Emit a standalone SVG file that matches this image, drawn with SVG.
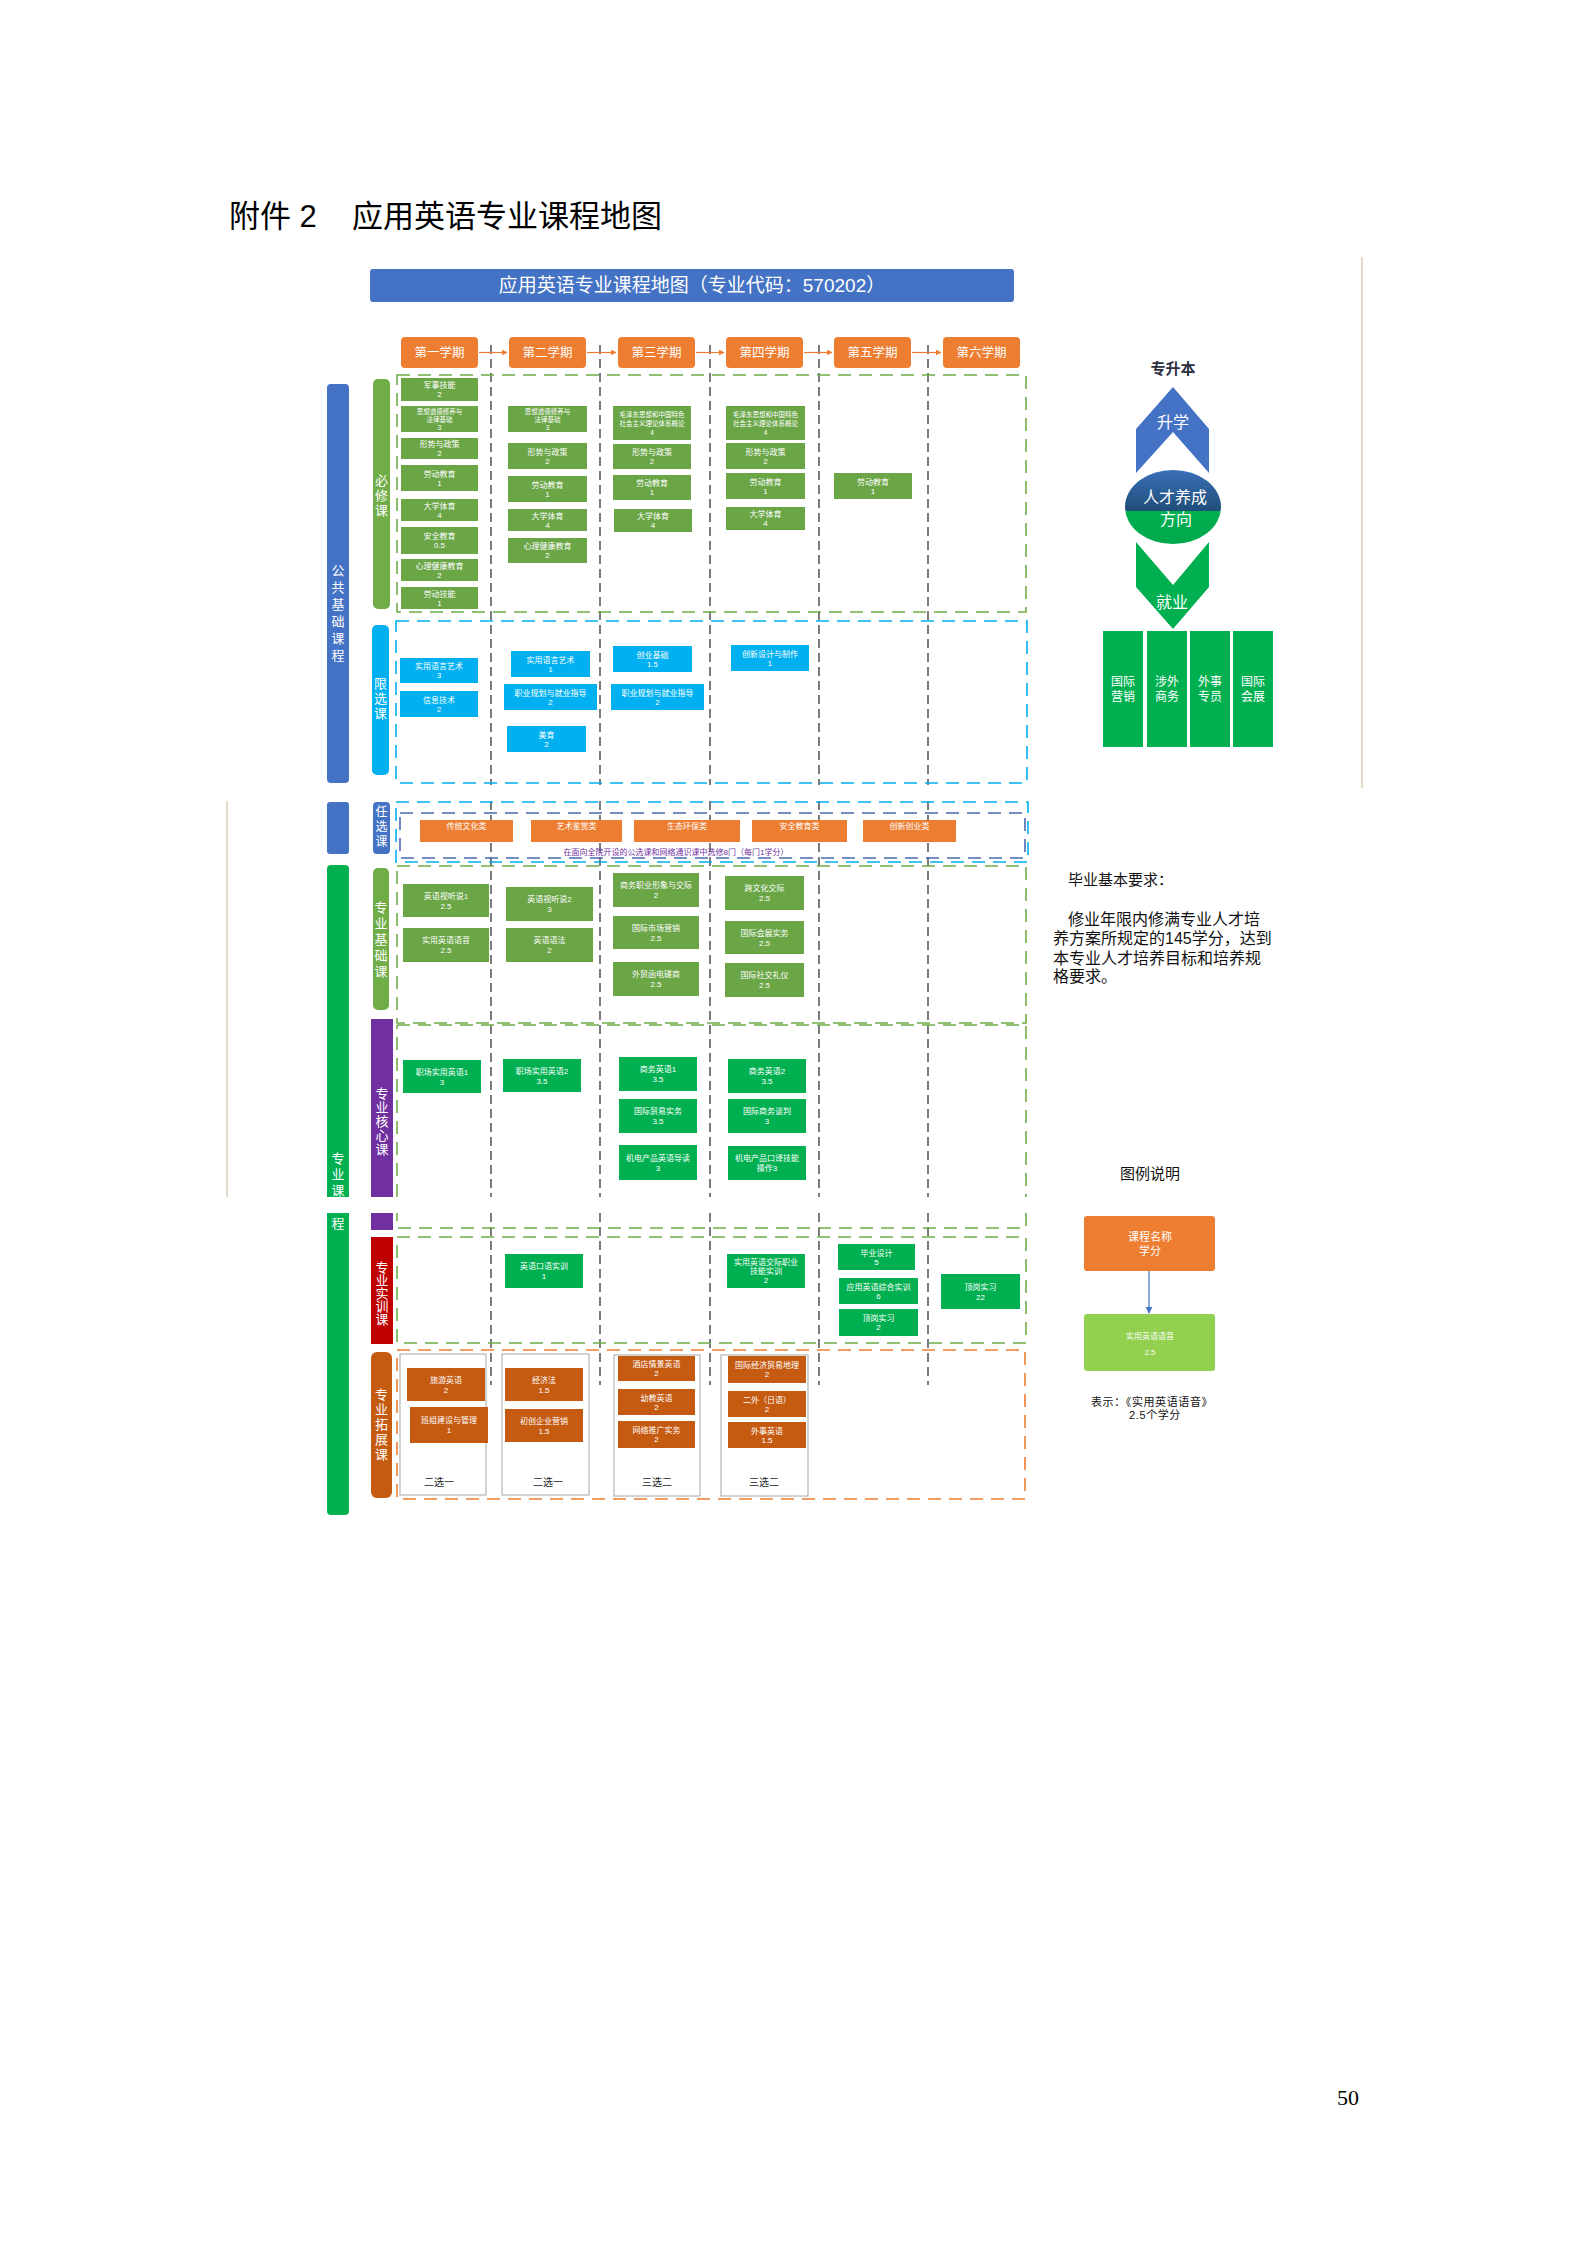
<svg xmlns="http://www.w3.org/2000/svg" width="1587" height="2245" viewBox="0 0 1587 2245">
<defs>
<style>
text{font-family:"Liberation Sans","Noto Sans CJK SC",sans-serif}
text.serif{font-family:"Liberation Serif",serif}
.g{fill:#6AA546}
.bl{fill:#00B0F0}
.cg{fill:#00B050}
.br{fill:#C55A11}
.or{fill:#ED7D31}
.bt{fill:#fff;font-size:8px;text-anchor:middle}
.bs{fill:#fff;font-size:6.5px;text-anchor:middle}
.hd{fill:#fff;font-size:12.5px;text-anchor:middle}
.vt{fill:#fff;font-size:13px;text-anchor:middle}
.sep{fill:none;stroke:#444;stroke-width:1.4;stroke-dasharray:9 5}
.dg{fill:none;stroke:#70AD47;stroke-width:1.6;stroke-dasharray:13 8}
.db{fill:none;stroke:#00B0F0;stroke-width:1.6;stroke-dasharray:13 8}
.dn{fill:none;stroke:#4A6AAE;stroke-width:1.6;stroke-dasharray:13 8}
.do{fill:none;stroke:#ED7D31;stroke-width:1.6;stroke-dasharray:13 8}
.arr{stroke:#ED7D31;stroke-width:1.2;fill:none;marker-end:url(#ao)}
.fr{fill:#fff;stroke:#A6A6A6;stroke-width:1}
.lab{fill:#222;font-size:10px;text-anchor:middle}
</style>
<marker id="ao" viewBox="0 0 10 10" refX="9" refY="5" markerWidth="5" markerHeight="5" orient="auto"><path d="M0,0 L10,5 L0,10 z" fill="#ED7D31"/></marker>
<marker id="ab" viewBox="0 0 10 10" refX="9" refY="5" markerWidth="6" markerHeight="6" orient="auto"><path d="M0,0 L10,5 L0,10 z" fill="#4472C4"/></marker>
<linearGradient id="ell" x1="0" y1="0" x2="0" y2="1">
<stop offset="0" stop-color="#3A6FB8"/><stop offset="0.55" stop-color="#1F4E79"/><stop offset="0.55" stop-color="#00B050"/><stop offset="1" stop-color="#00A84C"/>
</linearGradient>
</defs>
<rect width="1587" height="2245" fill="#fff"/>

<g id="page-title">
<text x="229" y="227" font-size="31" fill="#000">附件 2</text>
<text x="352" y="227" font-size="31" fill="#000">应用英语专业课程地图</text>
</g>

<g id="title-bar">
<rect x="370" y="269" width="644" height="33" rx="3" fill="#4472C4"/>
<text x="692" y="292" font-size="19" fill="#fff" text-anchor="middle">应用英语专业课程地图（专业代码：570202）</text>
</g>

<g id="frames">
<path class="sep" d="M491,345V785M600,345V785M710,345V785M819,345V785M928,345V785"/>
<path class="sep" d="M491,801V1197M600,801V1197M710,801V1197M819,801V1197M928,801V1197"/>
<path class="sep" d="M491,1213V1385M600,1213V1385M710,1213V1385M819,1213V1385M928,1213V1385"/>
<rect class="dg" x="397" y="375" width="629" height="237"/>
<rect class="db" x="396" y="621" width="631" height="162"/>
<rect class="db" x="396" y="802" width="632" height="60"/>
<rect class="dn" x="400" y="813" width="625" height="45"/>
<rect class="dg" x="397" y="866" width="629" height="157"/>
<path class="dg" d="M397,1025H1026V1197M1026,1213V1228H397V1213M397,1197V1025"/>
<rect class="dg" x="397" y="1237" width="629" height="106"/>
<rect class="do" x="397" y="1350" width="628" height="149"/>
<line x1="1362" y1="257" x2="1362" y2="788" stroke="#D8CCB4" stroke-width="1.5"/>
<line x1="227" y1="801" x2="227" y2="1197" stroke="#D8CCB4" stroke-width="1.5"/>
</g>

<g id="semesters">
<g id="s1"><rect class="or" x="401" y="337" width="77" height="31" rx="4"/><text class="hd" x="439.5" y="357">第一学期</text></g>
<g id="s2"><rect class="or" x="509" y="337" width="77" height="31" rx="4"/><text class="hd" x="547.5" y="357">第二学期</text></g>
<g id="s3"><rect class="or" x="618" y="337" width="77" height="31" rx="4"/><text class="hd" x="656.5" y="357">第三学期</text></g>
<g id="s4"><rect class="or" x="726" y="337" width="77" height="31" rx="4"/><text class="hd" x="764.5" y="357">第四学期</text></g>
<g id="s5"><rect class="or" x="834" y="337" width="77" height="31" rx="4"/><text class="hd" x="872.5" y="357">第五学期</text></g>
<g id="s6"><rect class="or" x="943" y="337" width="77" height="31" rx="4"/><text class="hd" x="981.5" y="357">第六学期</text></g>
</g>

<g id="connectors">
<line class="arr" x1="479" y1="352.5" x2="507" y2="352.5"/>
<line class="arr" x1="587" y1="352.5" x2="616" y2="352.5"/>
<line class="arr" x1="696" y1="352.5" x2="724" y2="352.5"/>
<line class="arr" x1="804" y1="352.5" x2="832" y2="352.5"/>
<line class="arr" x1="912" y1="352.5" x2="941" y2="352.5"/>
<line x1="1149" y1="1271" x2="1149" y2="1313" stroke="#4472C4" stroke-width="1.2" marker-end="url(#ab)"/>
</g>

<g id="left-bars">
<g id="bar-gg"><rect x="327" y="384" width="22" height="399" rx="4" fill="#4472C4"/>
<text class="vt" x="338" y="575">公<tspan x="338" dy="17">共</tspan><tspan x="338" dy="17">基</tspan><tspan x="338" dy="17">础</tspan><tspan x="338" dy="17">课</tspan><tspan x="338" dy="17">程</tspan></text></g>
<rect x="327" y="802" width="22" height="52" rx="3" fill="#4472C4"/>
<g id="bar-bx"><rect x="373" y="379" width="17" height="230" rx="5" fill="#70AD47"/>
<text class="vt" x="381.5" y="485">必<tspan x="381.5" dy="15">修</tspan><tspan x="381.5" dy="15">课</tspan></text></g>
<g id="bar-xx"><rect x="372" y="625" width="17" height="150" rx="5" fill="#00B0F0"/>
<text class="vt" x="380.5" y="688">限<tspan x="380.5" dy="15">选</tspan><tspan x="380.5" dy="15">课</tspan></text></g>
<g id="bar-rx"><rect x="373" y="802" width="17" height="52" rx="4" fill="#4472C4"/>
<text x="381.5" y="816" fill="#fff" font-size="12" text-anchor="middle">任<tspan x="381.5" dy="15">选</tspan><tspan x="381.5" dy="15">课</tspan></text></g>
<g id="bar-zy"><path d="M327,1197V869a4,4 0 0 1 4,-4h14a4,4 0 0 1 4,4V1197z" fill="#00B050"/>
<path d="M327,1213V1511a4,4 0 0 0 4,4h14a4,4 0 0 0 4,-4V1213z" fill="#00B050"/>
<text class="vt" x="338" y="1163">专<tspan x="338" dy="16">业</tspan><tspan x="338" dy="16">课</tspan><tspan x="338" dy="33">程</tspan></text></g>
<g id="bar-jc"><rect x="373" y="868" width="16" height="142" rx="5" fill="#70AD47"/>
<text class="vt" x="381" y="912">专<tspan x="381" dy="16">业</tspan><tspan x="381" dy="16">基</tspan><tspan x="381" dy="16">础</tspan><tspan x="381" dy="16">课</tspan></text></g>
<g id="bar-hx"><rect x="371" y="1019" width="22" height="178" fill="#7030A0"/>
<rect x="371" y="1213" width="22" height="17" fill="#7030A0"/>
<text class="vt" x="382" y="1098">专<tspan x="382" dy="14">业</tspan><tspan x="382" dy="14">核</tspan><tspan x="382" dy="14">心</tspan><tspan x="382" dy="14">课</tspan></text></g>
<g id="bar-sx"><rect x="371" y="1237" width="22" height="107" fill="#C00000"/>
<text class="vt" x="382" y="1272">专<tspan x="382" dy="13">业</tspan><tspan x="382" dy="13">实</tspan><tspan x="382" dy="13">训</tspan><tspan x="382" dy="13">课</tspan></text></g>
<g id="bar-tz"><rect x="371" y="1352" width="21" height="146" rx="6" fill="#C55A11"/>
<text class="vt" x="381.5" y="1399">专<tspan x="381.5" dy="15">业</tspan><tspan x="381.5" dy="15">拓</tspan><tspan x="381.5" dy="15">展</tspan><tspan x="381.5" dy="15">课</tspan></text></g>
</g>

<g id="bixiu">
<g id="b1-1"><rect class="g" x="401" y="378" width="77" height="23"/><text class="bt" x="439.5" y="388">军事技能<tspan x="439.5" dy="9">2</tspan></text></g>
<g id="b1-2"><rect class="g" x="401" y="406" width="77" height="26"/><text class="bs" x="439.5" y="413.5">思想道德修养与<tspan x="439.5" dy="8">法律基础</tspan><tspan x="439.5" dy="8">3</tspan></text></g>
<g id="b1-3"><rect class="g" x="401" y="438" width="77" height="21"/><text class="bt" x="439.5" y="447">形势与政策<tspan x="439.5" dy="9">2</tspan></text></g>
<g id="b1-4"><rect class="g" x="401" y="465" width="77" height="26"/><text class="bt" x="439.5" y="476.5">劳动教育<tspan x="439.5" dy="9">1</tspan></text></g>
<g id="b1-5"><rect class="g" x="401" y="499" width="77" height="22"/><text class="bt" x="439.5" y="508.5">大学体育<tspan x="439.5" dy="9">4</tspan></text></g>
<g id="b1-6"><rect class="g" x="401" y="527" width="77" height="27"/><text class="bt" x="439.5" y="539">安全教育<tspan x="439.5" dy="9">0.5</tspan></text></g>
<g id="b1-7"><rect class="g" x="401" y="559" width="77" height="22"/><text class="bt" x="439.5" y="568.5">心理健康教育<tspan x="439.5" dy="9">2</tspan></text></g>
<g id="b1-8"><rect class="g" x="401" y="587" width="77" height="22"/><text class="bt" x="439.5" y="596.5">劳动技能<tspan x="439.5" dy="9">1</tspan></text></g>

<g id="b2-1"><rect class="g" x="508" y="406" width="79" height="26"/><text class="bs" x="547.5" y="413.5">思想道德修养与<tspan x="547.5" dy="8">法律基础</tspan><tspan x="547.5" dy="8">3</tspan></text></g>
<g id="b2-2"><rect class="g" x="508" y="443" width="79" height="26"/><text class="bt" x="547.5" y="454.5">形势与政策<tspan x="547.5" dy="9">2</tspan></text></g>
<g id="b2-3"><rect class="g" x="508" y="476" width="79" height="26"/><text class="bt" x="547.5" y="487.5">劳动教育<tspan x="547.5" dy="9">1</tspan></text></g>
<g id="b2-4"><rect class="g" x="508" y="509" width="79" height="22"/><text class="bt" x="547.5" y="518.5">大学体育<tspan x="547.5" dy="9">4</tspan></text></g>
<g id="b2-5"><rect class="g" x="508" y="538" width="79" height="25"/><text class="bt" x="547.5" y="549">心理健康教育<tspan x="547.5" dy="9">2</tspan></text></g>

<g id="b3-1"><rect class="g" x="613" y="406" width="78" height="34"/><text class="bs" x="652" y="416.5">毛泽东思想和中国特色<tspan x="652" dy="9">社会主义理论体系概论</tspan><tspan x="652" dy="9">4</tspan></text></g>
<g id="b3-2"><rect class="g" x="613" y="444" width="78" height="25"/><text class="bt" x="652" y="455">形势与政策<tspan x="652" dy="9">2</tspan></text></g>
<g id="b3-3"><rect class="g" x="613" y="475" width="78" height="25"/><text class="bt" x="652" y="486">劳动教育<tspan x="652" dy="9">1</tspan></text></g>
<g id="b3-4"><rect class="g" x="614" y="509" width="78" height="23"/><text class="bt" x="653" y="519">大学体育<tspan x="653" dy="9">4</tspan></text></g>

<g id="b4-1"><rect class="g" x="726" y="406" width="79" height="34"/><text class="bs" x="765.5" y="416.5">毛泽东思想和中国特色<tspan x="765.5" dy="9">社会主义理论体系概论</tspan><tspan x="765.5" dy="9">4</tspan></text></g>
<g id="b4-2"><rect class="g" x="726" y="443" width="79" height="26"/><text class="bt" x="765.5" y="454.5">形势与政策<tspan x="765.5" dy="9">2</tspan></text></g>
<g id="b4-3"><rect class="g" x="726" y="473" width="79" height="26"/><text class="bt" x="765.5" y="484.5">劳动教育<tspan x="765.5" dy="9">1</tspan></text></g>
<g id="b4-4"><rect class="g" x="726" y="507" width="79" height="23"/><text class="bt" x="765.5" y="517">大学体育<tspan x="765.5" dy="9">4</tspan></text></g>

<g id="b5-1"><rect class="g" x="834" y="473" width="78" height="26"/><text class="bt" x="873" y="484.5">劳动教育<tspan x="873" dy="9">1</tspan></text></g>
</g>

<g id="xianxuan">
<g id="x1-1"><rect class="bl" x="400" y="658" width="78" height="25"/><text class="bt" x="439" y="669">实用语言艺术<tspan x="439" dy="9">3</tspan></text></g>
<g id="x1-2"><rect class="bl" x="400" y="691" width="78" height="26"/><text class="bt" x="439" y="702.5">信息技术<tspan x="439" dy="9">2</tspan></text></g>
<g id="x2-1"><rect class="bl" x="511" y="651" width="79" height="26"/><text class="bt" x="550.5" y="662.5">实用语言艺术<tspan x="550.5" dy="9">1</tspan></text></g>
<g id="x2-2"><rect class="bl" x="504" y="684" width="93" height="26"/><text class="bt" x="550.5" y="695.5">职业规划与就业指导<tspan x="550.5" dy="9">2</tspan></text></g>
<g id="x2-3"><rect class="bl" x="507" y="726" width="79" height="26"/><text class="bt" x="546.5" y="737.5">美育<tspan x="546.5" dy="9">2</tspan></text></g>
<g id="x3-1"><rect class="bl" x="613" y="646" width="79" height="26"/><text class="bt" x="652.5" y="657.5">创业基础<tspan x="652.5" dy="9">1.5</tspan></text></g>
<g id="x3-2"><rect class="bl" x="611" y="684" width="93" height="26"/><text class="bt" x="657.5" y="695.5">职业规划与就业指导<tspan x="657.5" dy="9">2</tspan></text></g>
<g id="x4-1"><rect class="bl" x="731" y="645" width="78" height="26"/><text class="bt" x="770" y="656.5">创新设计与制作<tspan x="770" dy="9">1</tspan></text></g>
</g>

<g id="renxuan">
<g id="r1"><rect class="or" x="420" y="820" width="93" height="22"/><text class="bt" x="466.5" y="829">传统文化类</text></g>
<g id="r2"><rect class="or" x="531" y="820" width="91" height="22"/><text class="bt" x="576.5" y="829">艺术鉴赏类</text></g>
<g id="r3"><rect class="or" x="634" y="820" width="106" height="22"/><text class="bt" x="687" y="829">生态环保类</text></g>
<g id="r4"><rect class="or" x="752" y="820" width="95" height="22"/><text class="bt" x="799.5" y="829">安全教育类</text></g>
<g id="r5"><rect class="or" x="863" y="820" width="93" height="22"/><text class="bt" x="909.5" y="829">创新创业类</text></g>
<text x="676" y="855" font-size="8" fill="#7030A0" text-anchor="middle">在面向全院开设的公选课和网络通识课中选修8门（每门1学分）</text>
</g>

<g id="jichu">
<g id="j1-1"><rect class="g" x="403" y="884" width="86" height="33"/><text class="bt" x="446" y="898.5">英语视听说1<tspan x="446" dy="10">2.5</tspan></text></g>
<g id="j1-2"><rect class="g" x="403" y="928" width="86" height="34"/><text class="bt" x="446" y="943">实用英语语音<tspan x="446" dy="10">2.5</tspan></text></g>
<g id="j2-1"><rect class="g" x="506" y="887" width="87" height="34"/><text class="bt" x="549.5" y="902">英语视听说2<tspan x="549.5" dy="10">3</tspan></text></g>
<g id="j2-2"><rect class="g" x="506" y="928" width="87" height="34"/><text class="bt" x="549.5" y="943">英语语法<tspan x="549.5" dy="10">2</tspan></text></g>
<g id="j3-1"><rect class="g" x="613" y="873" width="86" height="34"/><text class="bt" x="656" y="888">商务职业形象与交际<tspan x="656" dy="10">2</tspan></text></g>
<g id="j3-2"><rect class="g" x="613" y="916" width="86" height="33"/><text class="bt" x="656" y="930.5">国际市场营销<tspan x="656" dy="10">2.5</tspan></text></g>
<g id="j3-3"><rect class="g" x="613" y="962" width="86" height="34"/><text class="bt" x="656" y="977">外贸函电磋商<tspan x="656" dy="10">2.5</tspan></text></g>
<g id="j4-1"><rect class="g" x="725" y="876" width="79" height="34"/><text class="bt" x="764.5" y="891">跨文化交际<tspan x="764.5" dy="10">2.5</tspan></text></g>
<g id="j4-2"><rect class="g" x="725" y="921" width="79" height="33"/><text class="bt" x="764.5" y="935.5">国际会展实务<tspan x="764.5" dy="10">2.5</tspan></text></g>
<g id="j4-3"><rect class="g" x="725" y="963" width="79" height="34"/><text class="bt" x="764.5" y="978">国际社交礼仪<tspan x="764.5" dy="10">2.5</tspan></text></g>
</g>

<g id="hexin">
<g id="h1-1"><rect class="cg" x="403" y="1060" width="78" height="33"/><text class="bt" x="442" y="1074.5">职场实用英语1<tspan x="442" dy="10">3</tspan></text></g>
<g id="h2-1"><rect class="cg" x="503" y="1059" width="78" height="33"/><text class="bt" x="542" y="1073.5">职场实用英语2<tspan x="542" dy="10">3.5</tspan></text></g>
<g id="h3-1"><rect class="cg" x="619" y="1057" width="78" height="34"/><text class="bt" x="658" y="1072">商务英语1<tspan x="658" dy="10">3.5</tspan></text></g>
<g id="h3-2"><rect class="cg" x="619" y="1099" width="78" height="34"/><text class="bt" x="658" y="1114">国际贸易实务<tspan x="658" dy="10">3.5</tspan></text></g>
<g id="h3-3"><rect class="cg" x="619" y="1145" width="78" height="35"/><text class="bt" x="658" y="1160.5">机电产品英语导读<tspan x="658" dy="10">3</tspan></text></g>
<g id="h4-1"><rect class="cg" x="728" y="1059" width="78" height="34"/><text class="bt" x="767" y="1074">商务英语2<tspan x="767" dy="10">3.5</tspan></text></g>
<g id="h4-2"><rect class="cg" x="728" y="1099" width="78" height="34"/><text class="bt" x="767" y="1114">国际商务谈判<tspan x="767" dy="10">3</tspan></text></g>
<g id="h4-3"><rect class="cg" x="728" y="1146" width="78" height="34"/><text class="bt" x="767" y="1161">机电产品口译技能<tspan x="767" dy="10">操作3</tspan></text></g>
</g>

<g id="shixun">
<g id="sx2-1"><rect class="cg" x="505" y="1254" width="78" height="34"/><text class="bt" x="544" y="1269">英语口语实训<tspan x="544" dy="10">1</tspan></text></g>
<g id="sx4-1"><rect class="cg" x="727" y="1254" width="78" height="34"/><text class="bt" x="766" y="1264.5">实用英语交际职业<tspan x="766" dy="9">技能实训</tspan><tspan x="766" dy="9">2</tspan></text></g>
<g id="sx5-1"><rect class="cg" x="838" y="1244" width="77" height="26"/><text class="bt" x="876.5" y="1255.5">毕业设计<tspan x="876.5" dy="9">5</tspan></text></g>
<g id="sx5-2"><rect class="cg" x="839" y="1278" width="79" height="26"/><text class="bt" x="878.5" y="1289.5">应用英语综合实训<tspan x="878.5" dy="9">6</tspan></text></g>
<g id="sx5-3"><rect class="cg" x="839" y="1309" width="79" height="27"/><text class="bt" x="878.5" y="1321">顶岗实习<tspan x="878.5" dy="9">2</tspan></text></g>
<g id="sx6-1"><rect class="cg" x="941" y="1274" width="79" height="35"/><text class="bt" x="980.5" y="1289.5">顶岗实习<tspan x="980.5" dy="10">22</tspan></text></g>
</g>

<g id="tuozhan">
<rect class="fr" x="400" y="1354" width="86" height="141"/>
<rect class="fr" x="502" y="1354" width="87" height="141"/>
<rect class="fr" x="614" y="1355" width="86" height="141"/>
<rect class="fr" x="721" y="1355" width="87" height="141"/>
<text class="lab" x="439" y="1486">二选一</text>
<text class="lab" x="548" y="1486">二选一</text>
<text class="lab" x="657" y="1486">三选二</text>
<text class="lab" x="764" y="1486">三选二</text>
<g id="t1-1"><rect class="br" x="407" y="1368" width="78" height="33"/><text class="bt" x="446" y="1382.5">旅游英语<tspan x="446" dy="10">2</tspan></text></g>
<g id="t1-2"><rect class="br" x="410" y="1407" width="78" height="36"/><text class="bt" x="449" y="1423">班组建设与管理<tspan x="449" dy="10">1</tspan></text></g>
<g id="t2-1"><rect class="br" x="505" y="1368" width="78" height="33"/><text class="bt" x="544" y="1382.5">经济法<tspan x="544" dy="10">1.5</tspan></text></g>
<g id="t2-2"><rect class="br" x="505" y="1409" width="78" height="33"/><text class="bt" x="544" y="1423.5">初创企业营销<tspan x="544" dy="10">1.5</tspan></text></g>
<g id="t3-1"><rect class="br" x="618" y="1356" width="77" height="25"/><text class="bt" x="656.5" y="1367">酒店情景英语<tspan x="656.5" dy="9">2</tspan></text></g>
<g id="t3-2"><rect class="br" x="618" y="1389" width="77" height="26"/><text class="bt" x="656.5" y="1400.5">幼教英语<tspan x="656.5" dy="9">2</tspan></text></g>
<g id="t3-3"><rect class="br" x="618" y="1421" width="77" height="27"/><text class="bt" x="656.5" y="1433">网络推广实务<tspan x="656.5" dy="9">2</tspan></text></g>
<g id="t4-1"><rect class="br" x="728" y="1356" width="78" height="27"/><text class="bt" x="767" y="1368">国际经济贸易地理<tspan x="767" dy="9">2</tspan></text></g>
<g id="t4-2"><rect class="br" x="728" y="1391" width="78" height="26"/><text class="bt" x="767" y="1402.5">二外（日语）<tspan x="767" dy="9">2</tspan></text></g>
<g id="t4-3"><rect class="br" x="728" y="1422" width="78" height="26"/><text class="bt" x="767" y="1433.5">外事英语<tspan x="767" dy="9">1.5</tspan></text></g>
</g>

<g id="direction">
<text x="1173" y="374" font-size="15" font-weight="bold" fill="#2B2F3F" text-anchor="middle">专升本</text>
<g id="up"><polygon points="1173,387 1209,429 1209,473 1173,432 1136,473 1136,429" fill="#4472C4"/>
<text x="1173" y="428" font-size="16" fill="#fff" text-anchor="middle">升学</text></g>
<g id="center"><ellipse cx="1173" cy="507" rx="48" ry="37" fill="url(#ell)"/>
<text x="1175" y="503" font-size="16" fill="#fff" text-anchor="middle">人才养成</text>
<text x="1176" y="525" font-size="16" fill="#fff" text-anchor="middle">方向</text></g>
<g id="down"><polygon points="1136,542 1173,585 1209,542 1209,587 1173,629 1136,587" fill="#00B050"/>
<text x="1172" y="608" font-size="16" fill="#fff" text-anchor="middle">就业</text></g>
<g id="job1"><rect class="cg" x="1103" y="631" width="40" height="116"/><text x="1123" y="686" font-size="12" fill="#fff" text-anchor="middle">国际<tspan x="1123" dy="15">营销</tspan></text></g>
<g id="job2"><rect class="cg" x="1147" y="631" width="40" height="116"/><text x="1167" y="686" font-size="12" fill="#fff" text-anchor="middle">涉外<tspan x="1167" dy="15">商务</tspan></text></g>
<g id="job3"><rect class="cg" x="1190" y="631" width="40" height="116"/><text x="1210" y="686" font-size="12" fill="#fff" text-anchor="middle">外事<tspan x="1210" dy="15">专员</tspan></text></g>
<g id="job4"><rect class="cg" x="1233" y="631" width="40" height="116"/><text x="1253" y="686" font-size="12" fill="#fff" text-anchor="middle">国际<tspan x="1253" dy="15">会展</tspan></text></g>
</g>

<g id="requirements" fill="#111">
<text x="1068" y="885" font-size="15">毕业基本要求：</text>
<text x="1068" y="925" font-size="16">修业年限内修满专业人才培</text>
<text x="1053" y="944" font-size="16">养方案所规定的145学分，达到</text>
<text x="1053" y="964" font-size="16">本专业人才培养目标和培养规</text>
<text x="1053" y="982" font-size="16">格要求。</text>
</g>

<g id="legend">
<text x="1150" y="1179" font-size="15" fill="#111" text-anchor="middle">图例说明</text>
<g id="lg-orange"><rect class="or" x="1084" y="1216" width="131" height="55" rx="3"/>
<text x="1150" y="1241" font-size="11" fill="#fff" text-anchor="middle">课程名称<tspan x="1150" dy="14">学分</tspan></text></g>
<g id="lg-green"><rect x="1084" y="1314" width="131" height="57" rx="3" fill="#92D050"/>
<text x="1150" y="1339" font-size="8" fill="#fff" text-anchor="middle">实用英语语音<tspan x="1150" dy="16">2.5</tspan></text></g>
<text x="1091" y="1406" font-size="11" fill="#111" letter-spacing="0.6">表示：《实用英语语音》</text>
<text x="1155" y="1419" font-size="11" fill="#111" text-anchor="middle" letter-spacing="0.6">2.5个学分</text>
</g>

<text class="serif" x="1337" y="2105" font-size="22" fill="#000">50</text>
</svg>
